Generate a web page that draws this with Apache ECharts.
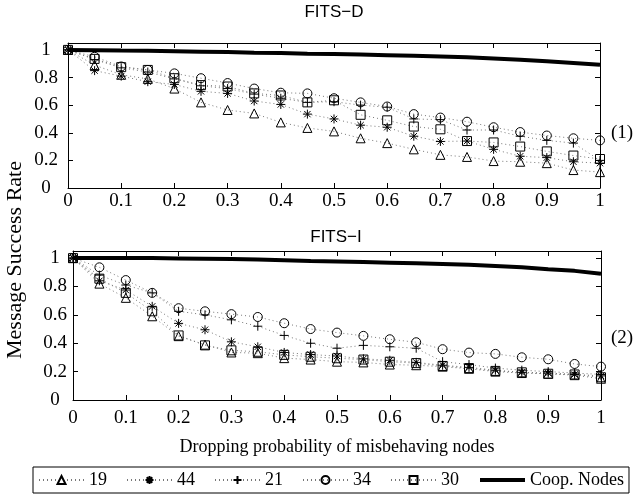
<!DOCTYPE html>
<html>
<head>
<meta charset="utf-8">
<title>FITS-D / FITS-I</title>
<script src="https://cdn.jsdelivr.net/npm/echarts@6/dist/echarts.min.js"></script>
<style>
	html, body { margin: 0; padding: 0; background: #fff; }
	#chart { width: 635px; height: 498px; }
</style>
</head>
<body>
<div id="chart"></div>
<script>
// dropping probability of misbehaving nodes
const probs = [0, 0.05, 0.1, 0.15, 0.2, 0.25, 0.3, 0.35, 0.4, 0.45, 0.5, 0.55, 0.6, 0.65, 0.7, 0.75, 0.8, 0.85, 0.9, 0.95, 1]
const seriesNames = ['19', '44', '21', '34', '30', 'Coop. Nodes']

// (1) FITS-D
const fitsD19 = [1, 0.89, 0.82, 0.79, 0.72, 0.62, 0.565, 0.54, 0.475, 0.435, 0.41, 0.36, 0.325, 0.28, 0.24, 0.225, 0.195, 0.19, 0.18, 0.13, 0.115]
const fitsD44 = [1, 0.85, 0.81, 0.77, 0.75, 0.70, 0.685, 0.63, 0.605, 0.535, 0.50, 0.455, 0.44, 0.375, 0.337, 0.34, 0.28, 0.23, 0.22, 0.19, 0.18]
const fitsD21 = [1, 0.93, 0.87, 0.84, 0.79, 0.74, 0.72, 0.68, 0.65, 0.62, 0.625, 0.60, 0.585, 0.50, 0.495, 0.42, 0.42, 0.375, 0.345, 0.325, 0.20]
const fitsD34 = [1, 0.95, 0.88, 0.855, 0.83, 0.795, 0.76, 0.72, 0.69, 0.685, 0.65, 0.62, 0.59, 0.535, 0.51, 0.48, 0.44, 0.405, 0.38, 0.36, 0.345]
const fitsD30 = [1, 0.935, 0.875, 0.855, 0.795, 0.745, 0.735, 0.685, 0.67, 0.62, 0.635, 0.53, 0.49, 0.445, 0.425, 0.34, 0.33, 0.30, 0.265, 0.235, 0.21]
const fitsDCoop = [1, 0.998, 0.995, 0.993, 0.99, 0.987, 0.984, 0.98, 0.977, 0.973, 0.97, 0.966, 0.962, 0.957, 0.952, 0.946, 0.938, 0.928, 0.917, 0.905, 0.893]

// (2) FITS-I
const fitsI19 = [1, 0.82, 0.72, 0.59, 0.45, 0.39, 0.335, 0.33, 0.295, 0.285, 0.27, 0.265, 0.25, 0.245, 0.235, 0.22, 0.2, 0.19, 0.185, 0.175, 0.15]
const fitsI44 = [1, 0.84, 0.775, 0.66, 0.54, 0.495, 0.41, 0.375, 0.335, 0.32, 0.31, 0.29, 0.28, 0.265, 0.245, 0.23, 0.21, 0.195, 0.19, 0.18, 0.17]
const fitsI21 = [1, 0.88, 0.81, 0.755, 0.625, 0.60, 0.565, 0.52, 0.455, 0.40, 0.365, 0.385, 0.375, 0.365, 0.27, 0.25, 0.225, 0.21, 0.2, 0.19, 0.18]
const fitsI34 = [1, 0.935, 0.845, 0.755, 0.647, 0.625, 0.605, 0.585, 0.541, 0.5, 0.475, 0.452, 0.428, 0.407, 0.358, 0.334, 0.325, 0.301, 0.287, 0.254, 0.235]
const fitsI30 = [1, 0.855, 0.755, 0.625, 0.455, 0.385, 0.35, 0.34, 0.318, 0.305, 0.294, 0.285, 0.27, 0.26, 0.24, 0.225, 0.205, 0.195, 0.185, 0.18, 0.16]
const fitsICoop = [1, 1, 1, 1, 0.998, 0.996, 0.993, 0.99, 0.985, 0.98, 0.976, 0.972, 0.968, 0.963, 0.958, 0.953, 0.945, 0.935, 0.922, 0.91, 0.89]

const serif = 'Liberation Serif'
const markers = {
	'19': 'triangle',
	'44': 'path://M5,0L5,10M0,5L10,5M1.5,1.5L8.5,8.5M8.5,1.5L1.5,8.5',
	'21': 'path://M5,0L5,10M0,5L10,5',
	'34': 'circle',
	'30': 'rect'
}

function pairs(vals) {
	return probs.map((p, i) => [p, vals[i]])
}

function yFmt(v) {
	// only 0, 0.2 ... 1 get a label, not the 1.05 top
	if (Math.abs(v * 5 - Math.round(v * 5)) > 1e-6) return ''
	return String(+v.toFixed(1))
}

function dottedSeries(name, vals, g) {
	return {
		name: name,
		type: 'line',
		xAxisIndex: g * 2,
		yAxisIndex: g * 2,
		data: pairs(vals),
		symbol: markers[name],
		symbolSize: 9,
		itemStyle: { color: 'rgba(0,0,0,0)', borderColor: '#000', borderWidth: 1 },
		lineStyle: { color: '#777', width: 1, type: [1, 3] },
		emphasis: { disabled: true }
	}
}

function coopSeries(vals, g) {
	return {
		name: 'Coop. Nodes',
		type: 'line',
		xAxisIndex: g * 2,
		yAxisIndex: g * 2,
		data: pairs(vals),
		symbol: 'none',
		itemStyle: { color: '#000' },
		lineStyle: { color: '#000', width: 4 },
		z: 3,
		emphasis: { disabled: true }
	}
}

function xAxes(g, margin) {
	let common = {
		type: 'value', gridIndex: g, min: 0, max: 1, interval: 0.1,
		axisLine: { onZero: false, lineStyle: { color: '#000', width: 1 } },
		axisTick: { inside: true, length: 5, lineStyle: { color: '#000' } },
		splitLine: { show: false }
	}
	let bottom = Object.assign({}, common, {
		position: 'bottom',
		axisLabel: { color: '#000', fontFamily: serif, fontSize: 19, margin: margin }
	})
	let top = Object.assign({}, common, { position: 'top', axisLabel: { show: false } })
	return [bottom, top]
}

function yAxes(g, margin) {
	let common = {
		type: 'value', gridIndex: g, min: 0, max: 1.05, interval: 0.2,
		axisLine: { onZero: false, lineStyle: { color: '#000', width: 1 } },
		axisTick: { inside: true, length: 5, lineStyle: { color: '#000' } },
		splitLine: { show: false }
	}
	let left = Object.assign({}, common, {
		position: 'left',
		axisLabel: { color: '#000', fontFamily: serif, fontSize: 19, margin: margin, align: 'center', formatter: yFmt }
	})
	let right = Object.assign({}, common, { position: 'right', axisLabel: { show: false } })
	return [left, right]
}

let myChart = echarts.init(document.getElementById('chart'))

let xs = xAxes(0, 4).concat(xAxes(1, 9))
xs[2].name = 'Dropping probability of misbehaving nodes'
xs[2].nameLocation = 'middle'
xs[2].nameGap = 38
xs[2].nameTextStyle = { color: '#000', fontFamily: serif, fontSize: 18 }

// legend entries, the thick line gets no marker
let legendData = seriesNames.map(n => n === 'Coop. Nodes'
	? { name: n, itemStyle: { color: 'rgba(0,0,0,0)', borderWidth: 0 }, lineStyle: { width: 4 } }
	: { name: n })

myChart.setOption({
	animation: false,
	grid: [
		{ left: 68, right: 35, top: 43, height: 145 },
		{ left: 73, right: 34, top: 251, height: 149 }
	],
	xAxis: xs,
	yAxis: yAxes(0, 22).concat(yAxes(1, 18)),
	legend: {
		data: legendData,
		left: 33,
		right: 0,
		top: 467,
		padding: [4, 5],
		itemGap: 19,
		itemWidth: 45,
		itemHeight: 10,
		borderColor: '#000',
		borderWidth: 1,
		textStyle: { color: '#000', fontFamily: serif, fontSize: 18 }
	},
	graphic: [
		{ type: 'text', x: 334, y: 12, style: { text: 'FITS\u2212D', fontSize: 17, fontFamily: 'Liberation Sans', fill: '#000', align: 'center', verticalAlign: 'middle' } },
		{ type: 'text', x: 336, y: 237, style: { text: 'FITS\u2212I', fontSize: 17, fontFamily: 'Liberation Sans', fill: '#000', align: 'center', verticalAlign: 'middle' } },
		{ type: 'text', x: 15, y: 260, rotation: Math.PI / 2, style: { text: 'Message Success Rate', fontSize: 22, fontFamily: serif, fill: '#000', align: 'center', verticalAlign: 'middle' } },
		{ type: 'text', x: 611, y: 133, style: { text: '(1)', fontSize: 19, fontFamily: serif, fill: '#000', verticalAlign: 'middle' } },
		{ type: 'text', x: 611, y: 338, style: { text: '(2)', fontSize: 19, fontFamily: serif, fill: '#000', verticalAlign: 'middle' } }
	],
	series: [
		dottedSeries('19', fitsD19, 0),
		dottedSeries('44', fitsD44, 0),
		dottedSeries('21', fitsD21, 0),
		dottedSeries('34', fitsD34, 0),
		dottedSeries('30', fitsD30, 0),
		coopSeries(fitsDCoop, 0),
		dottedSeries('19', fitsI19, 1),
		dottedSeries('44', fitsI44, 1),
		dottedSeries('21', fitsI21, 1),
		dottedSeries('34', fitsI34, 1),
		dottedSeries('30', fitsI30, 1),
		coopSeries(fitsICoop, 1)
	]
})
</script>
</body>
</html>
